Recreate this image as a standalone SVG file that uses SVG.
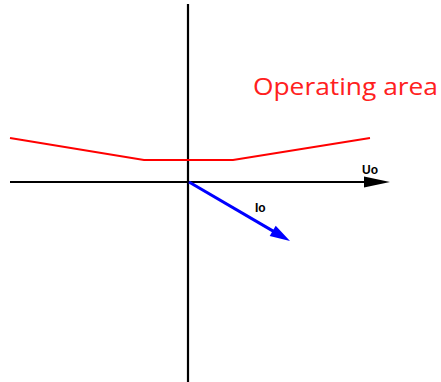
<svg xmlns="http://www.w3.org/2000/svg" width="441" height="382" viewBox="0 0 441 382">
<defs>
<style>
.axis{stroke:#000;stroke-width:2.2;fill:none}
.lbl{font-family:"Liberation Sans",Arial,sans-serif;font-weight:bold;font-size:12px;fill:#000}
</style>
</defs>
<rect width="441" height="382" fill="#fff"/>
<g id="connectors">
<line class="axis" x1="188" y1="4" x2="188" y2="382"/>
<line class="axis" x1="10" y1="182" x2="368" y2="182"/>
<path d="M364,176.5 L390,182 L364,187.5 z" fill="#000"/>
<polyline points="10,138 144,160 233,160 370,138" fill="none" stroke="#ff0000" stroke-width="2"/>
<line x1="189" y1="182" x2="274" y2="231.6" stroke="#0000ff" stroke-width="3"/>
<path d="M269.7,236.1 L290,241 L275.7,225.7 z" fill="#0000ff"/>
</g>
<g id="uo"><text class="lbl" x="362" y="174">Uo</text></g>
<g id="io"><text class="lbl" x="255" y="212">Io</text></g>
<g id="operating-area"><text x="253" y="95" font-family="'Open Sans',sans-serif" font-size="24" fill="#ff2020" textLength="185" lengthAdjust="spacingAndGlyphs">Operating area</text></g>
</svg>
